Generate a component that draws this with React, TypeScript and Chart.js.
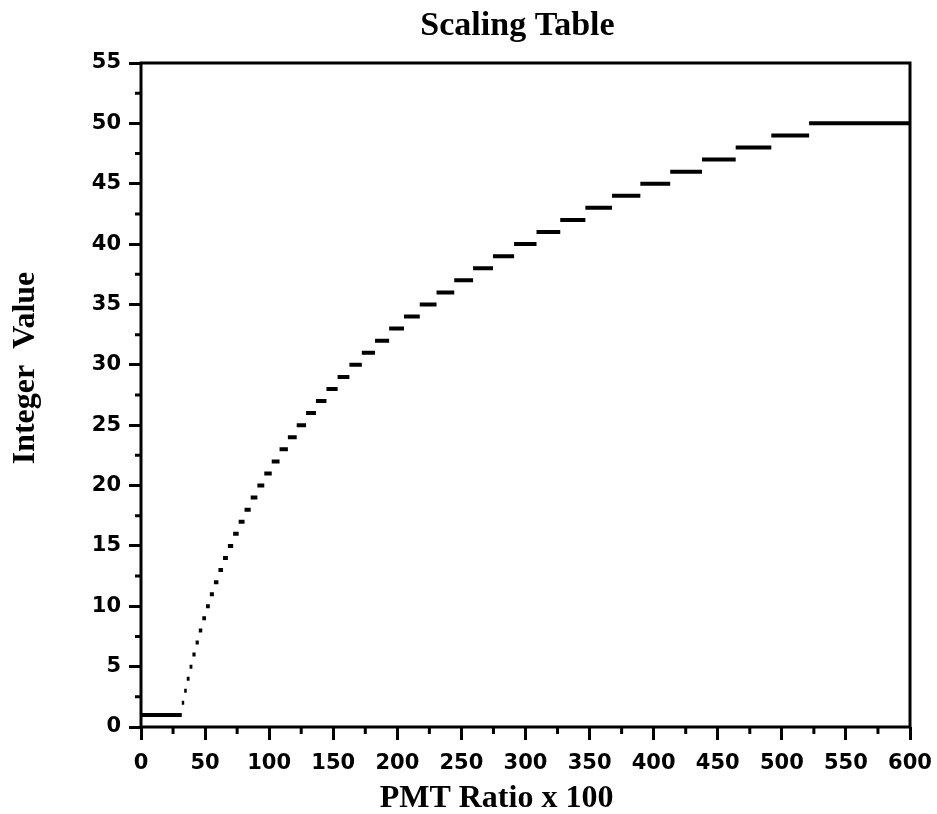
import React, { useEffect, useRef } from "react";
import { Chart, registerables } from "chart.js";

Chart.register(...registerables);

// Integer value levels of the scaling table
const levelValues: number[] = [
  1, 2, 3, 4, 5, 6, 7, 8, 9, 10,
  11, 12, 13, 14, 15, 16, 17, 18, 19, 20,
  21, 22, 23, 24, 25, 26, 27, 28, 29, 30,
  31, 32, 33, 34, 35, 36, 37, 38, 39, 40,
  41, 42, 43, 44, 45, 46, 47, 48, 49, 50,
];

// PMT ratio x 100 at which each level begins
const stepStartX: number[] = [
  0, 31.8, 33.7, 35.7, 37.9, 40.1, 42.6, 45.1, 47.8, 50.7,
  53.7, 56.9, 60.4, 64.0, 67.8, 71.9, 76.2, 80.8, 85.6, 90.8,
  96.2, 102.0, 108.1, 114.6, 121.5, 128.8, 136.5, 144.7, 153.4, 162.6,
  172.3, 182.6, 193.6, 205.2, 217.5, 230.6, 244.4, 259.1, 274.6, 291.1,
  308.6, 327.1, 346.7, 367.5, 389.6, 412.9, 437.7, 464.0, 491.8, 521.3,
];
const lastStepEndX = 600;

const xTickValues: number[] = [0, 50, 100, 150, 200, 250, 300, 350, 400, 450, 500, 550, 600];
const yTickValues: number[] = [0, 5, 10, 15, 20, 25, 30, 35, 40, 45, 50, 55];
const xMinorTicks: number[] = [25, 75, 125, 175, 225, 275, 325, 375, 425, 475, 525, 575];
const yMinorTicks: number[] = [2.5, 7.5, 12.5, 17.5, 22.5, 27.5, 32.5, 37.5, 42.5, 47.5, 52.5];

const chartTitle = "Scaling Table";
const xTitle = "PMT Ratio x 100";
const yTitle = "Integer  Value";

const frameAndTitles = {
  id: "frameAndTitles",
  afterDraw(chart: any) {
    const { ctx, chartArea } = chart;
    const { left, right, top, bottom } = chartArea;
    const xs = chart.scales.x;
    const ys = chart.scales.y;
    ctx.save();
    ctx.strokeStyle = "#000";
    ctx.lineWidth = 3;
    ctx.strokeRect(left, top, right - left, bottom - top);
    // minor ticks
    ctx.lineWidth = 3;
    ctx.beginPath();
    for (const v of yMinorTicks) {
      const py = ys.getPixelForValue(v);
      ctx.moveTo(left - 6, py);
      ctx.lineTo(left, py);
    }
    for (const v of xMinorTicks) {
      const px = xs.getPixelForValue(v);
      ctx.moveTo(px, bottom);
      ctx.lineTo(px, bottom + 7);
    }
    ctx.stroke();
    // titles
    ctx.fillStyle = "#000";
    ctx.textAlign = "center";
    ctx.textBaseline = "alphabetic";
    ctx.font = "bold 34px 'Liberation Serif', 'Times New Roman', serif";
    ctx.fillText(chartTitle, (left + right) / 2 - 8, 35);
    ctx.font = "bold 32px 'Liberation Serif', 'Times New Roman', serif";
    ctx.fillText(xTitle, (left + right) / 2 - 29, 807);
    ctx.save();
    ctx.translate(34, (top + bottom) / 2 - 27);
    ctx.rotate(-Math.PI / 2);
    ctx.fillText(yTitle, 0, 0);
    ctx.restore();
    ctx.restore();
  },
};

export default function App() {
  const canvasRef = useRef<HTMLCanvasElement | null>(null);

  useEffect(() => {
    if (!canvasRef.current) return;
    const data: any[] = [];
    levelValues.forEach((v, i) => {
      const start = stepStartX[i];
      const end = i + 1 < stepStartX.length ? stepStartX[i + 1] : lastStepEndX;
      data.push({ x: start, y: v });
      data.push({ x: end, y: v });
      data.push({ x: end, y: null });
    });

    const tickFont = { family: "'DejaVu Sans', Arial, sans-serif", size: 21, weight: "bold" as const };

    const chart = new Chart(canvasRef.current, {
      type: "scatter",
      data: {
        datasets: [
          {
            data,
            showLine: true,
            spanGaps: false,
            pointRadius: 0,
            pointHoverRadius: 0,
            borderColor: "#000",
            borderWidth: 4,
            borderCapStyle: "butt",
          } as any,
        ],
      },
      options: {
        responsive: false,
        animation: false,
        layout: { padding: { top: 63, right: 27, left: 0, bottom: 0 } },
        plugins: {
          legend: { display: false },
          tooltip: { enabled: false },
          title: { display: false },
        },
        scales: {
          x: {
            type: "linear",
            min: 0,
            max: 600,
            afterFit: (s: any) => {
              s.height = 87;
              s.paddingLeft = 0;
              s.paddingRight = 0;
            },
            afterBuildTicks: (s: any) => {
              s.ticks = xTickValues.map((v) => ({ value: v }));
            },
            ticks: {
              color: "#000",
              font: tickFont,
              padding: 11,
              maxRotation: 0,
              autoSkip: false,
            },
            grid: {
              display: true,
              drawOnChartArea: false,
              drawTicks: true,
              tickLength: 13,
              tickWidth: 3,
              tickColor: "#000",
            },
            border: { display: false },
          },
          y: {
            type: "linear",
            min: 0,
            max: 55,
            afterFit: (s: any) => {
              s.width = 141;
              s.paddingTop = 0;
              s.paddingBottom = 0;
            },
            afterBuildTicks: (s: any) => {
              s.ticks = yTickValues.map((v) => ({ value: v }));
            },
            ticks: {
              color: "#000",
              font: tickFont,
              padding: 8,
              autoSkip: false,
            },
            grid: {
              display: true,
              drawOnChartArea: false,
              drawTicks: true,
              tickLength: 12,
              tickWidth: 3,
              tickColor: "#000",
            },
            border: { display: false },
          },
        },
      },
      plugins: [frameAndTitles],
    });
    return () => chart.destroy();
  }, []);

  return (
    <div style={{ position: "fixed", left: 0, top: 0, width: 937, height: 814, background: "#fff" }}>
      <canvas ref={canvasRef} width={937} height={814} style={{ display: "block" }} />
    </div>
  );
}
